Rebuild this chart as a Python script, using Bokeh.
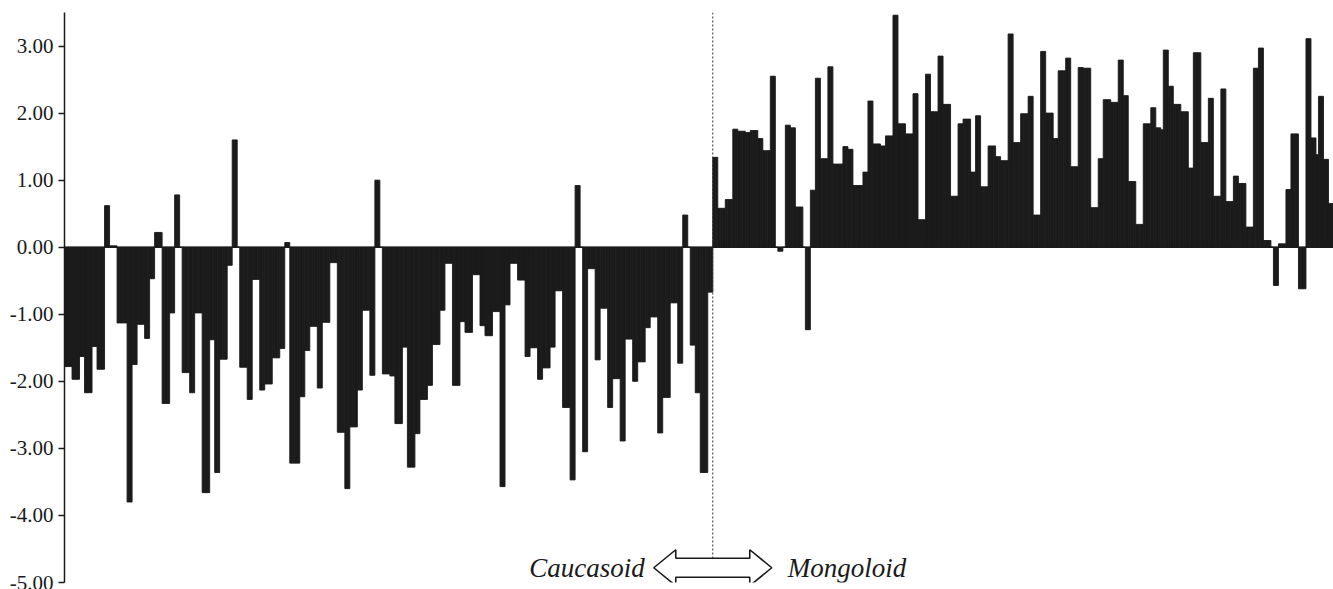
from bokeh.plotting import figure
from bokeh.models import Range1d, FixedTicker, Span, Label, ColumnDataSource, NumeralTickFormatter
from bokeh.embed import file_html
from bokeh.resources import INLINE

# --- data ---
caucasoid = [
    -1.78, -1.78, -1.78, -1.97, -1.97, -1.97, -1.63, -1.63, -2.17, -2.17, -2.17, -1.48, -1.48,
    -1.82, -1.82, -1.82, 0.62, 0.62, 0.02, 0.02, 0.02, -1.13, -1.13, -1.13, -1.13, -3.80, -3.80,
    -1.75, -1.75, -1.15, -1.15, -1.15, -1.36, -1.36, -0.47, -0.47, 0.22, 0.22, 0.22,
    -2.33, -2.33, -2.33, -0.98, -0.98, 0.78, 0.78, 0.00, -1.87, -1.87, -1.87,
    -2.17, -2.17, -0.98, -0.98, -0.98, -3.66, -3.66, -3.66, -1.38, -1.38, -3.36, -3.36,
    -1.67, -1.67, -1.67, -0.27, -0.27, 1.60, 1.60, 0.00, -1.79, -1.79, -1.79,
    -2.27, -2.27, -0.48, -0.48, -0.48, -2.13, -2.13, -2.04, -2.04, -2.04, -1.65, -1.65, -1.65,
    -1.51, -1.51, 0.07, 0.07, -3.22, -3.22, -3.22, -3.22, -2.23, -2.23, -1.54, -1.54,
    -1.18, -1.18, -1.18, -2.10, -2.10, -1.12, -1.12, -1.12, -0.23, -0.23, -0.23,
    -2.76, -2.76, -2.76, -3.60, -3.60, -2.68, -2.68, -2.68, -2.13, -2.13, -0.94, -0.94, -0.94, -1.91, -1.91,
    1.00, 1.00, 0.00, -1.89, -1.89, -1.89, -1.92, -1.92, -2.63, -2.63, -2.63, -1.49, -1.49,
    -3.28, -3.28, -3.28, -2.78, -2.78, -2.27, -2.27, -2.27, -2.06, -2.06,
    -1.45, -1.45, -1.45, -0.94, -0.94, -0.24, -0.24, -0.24, -2.06, -2.06, -2.06, -1.11, -1.11,
    -1.27, -1.27, -1.27, -0.41, -0.41, -0.41, -1.17, -1.17, -1.32, -1.32, -1.32, -0.96, -0.96, -0.96,
    -3.57, -3.57, -0.86, -0.86, -0.24, -0.24, -0.24, -0.49, -0.49, -0.49, -1.63, -1.63,
    -1.50, -1.50, -1.50, -1.97, -1.97, -1.80, -1.80, -1.80, -1.49, -1.49, -0.65, -0.65, -0.65,
    -2.39, -2.39, -2.39, -3.47, -3.47, 0.92, 0.92, 0.00, -3.05, -3.05, -0.32, -0.32, -0.32,
    -1.68, -1.68, -0.91, -0.91, -0.91, -2.39, -2.39, -1.96, -1.96, -1.96,
    -2.89, -2.89, -1.37, -1.37, -1.37, -2.00, -2.00, -1.71, -1.71, -1.71, -1.20, -1.20,
    -1.04, -1.04, -1.04, -2.77, -2.77, -2.24, -2.24, -2.24, -0.83, -0.83, -0.83, -1.73, -1.73,
    0.48, 0.48, 0.00, -1.46, -1.46, -2.17, -2.17, -3.36, -3.36, -3.36, -0.67, -0.67,
]

mongoloid = [
    1.34, 1.34, 0.58, 0.58, 0.58, 0.71, 0.71, 0.71, 1.76, 1.76, 1.73, 1.73, 1.73, 1.71, 1.71,
    1.74, 1.74, 1.74, 1.62, 1.62, 1.44, 1.44, 1.44, 2.55, 2.55,
    0.00, -0.06, -0.06, 0.00, 1.82, 1.82, 1.78, 1.78, 0.60, 0.60, 0.60, 0.00, -1.23, -1.23,
    0.85, 0.85, 2.52, 2.52,
    1.32, 1.32, 1.32, 2.69, 2.69, 1.24, 1.24, 1.24, 1.24, 1.50, 1.50, 1.46, 1.46,
    0.92, 0.92, 0.92, 0.92, 1.12, 1.12, 2.18, 2.18, 1.54, 1.54, 1.54, 1.51, 1.51,
    1.66, 1.66, 1.66, 3.46, 3.46, 1.84, 1.84, 1.84, 1.69, 1.69, 1.69, 2.29, 2.29,
    0.41, 0.41, 0.41, 2.58, 2.58, 2.02, 2.02, 2.02, 2.85, 2.85, 2.13, 2.13, 2.13,
    0.76, 0.76, 0.76, 1.84, 1.84, 1.91, 1.91, 1.91, 1.12, 1.12, 1.96, 1.96,
    0.90, 0.90, 0.90, 1.51, 1.51, 1.51, 1.35, 1.35, 1.29, 1.29, 1.29, 3.18, 3.18,
    1.56, 1.56, 1.56, 1.99, 1.99, 1.99, 2.25, 2.25, 0.48, 0.48, 0.48, 2.92, 2.92,
    2.00, 2.00, 2.00, 1.62, 1.62, 2.63, 2.63, 2.63, 2.82, 2.82, 1.20, 1.20, 1.20,
    2.68, 2.68, 2.67, 2.67, 2.67, 0.59, 0.59, 0.59, 1.32, 1.32, 2.20, 2.20, 2.20,
    2.16, 2.16, 2.16, 2.79, 2.79, 2.26, 2.26, 0.98, 0.98, 0.98, 0.34, 0.34, 0.34,
    1.84, 1.84, 1.84, 2.08, 2.08, 1.78, 1.78, 1.75, 2.94, 2.94, 2.40, 2.40,
    2.13, 2.13, 2.13, 2.02, 2.02, 2.02, 1.18, 1.18, 2.90, 2.90, 2.90,
    1.56, 1.56, 1.56, 2.22, 2.22, 0.76, 0.76, 0.76, 2.36, 2.36, 0.68, 0.68, 0.68,
    1.06, 1.06, 0.95, 0.95, 0.95, 0.30, 0.30, 0.30, 2.67, 2.67, 2.97, 2.97,
    0.10, 0.10, 0.10, 0.00, -0.57, -0.57, 0.05, 0.05, 0.05, 0.86, 0.86, 1.69, 1.69, 1.69,
    -0.62, -0.62, -0.62, 3.11, 3.11, 1.63, 1.63, 1.38, 2.25, 2.25, 1.31, 1.31, 0.65, 0.65,
]

y_ticks = [-5, -4, -3, -2, -1, 0, 1, 2, 3]
group_labels = ["Caucasoid", "Mongoloid"]

values = caucasoid + mongoloid
n = len(values)
source = ColumnDataSource(dict(x=list(range(n)), top=values))

Y_MIN, Y_MAX = -5.0, 3.5
W, H = 1333, 589
BL, BT, BB = 64, 12, 7
frame_w = W - BL
frame_h = H - BT - BB
ppb = frame_w / n               # pixels per bar
ppy = frame_h / (Y_MAX - Y_MIN)  # pixels per y unit

p = figure(width=W, height=H, output_backend="svg", toolbar_location=None,
           x_axis_location=None,
           x_range=Range1d(-0.5, n - 0.5), y_range=Range1d(Y_MIN, Y_MAX),
           min_border_left=BL, min_border_right=0, min_border_top=BT, min_border_bottom=BB)
p.outline_line_color = None
p.grid.visible = False
p.background_fill_color = "white"

ax = p.yaxis[0]
ax.ticker = FixedTicker(ticks=y_ticks)
ax.formatter = NumeralTickFormatter(format="0.00")
ax.major_label_text_font = "Liberation Serif"
ax.major_label_text_font_size = "21px"
ax.major_label_text_color = "#1a1a1a"
ax.major_tick_out = 6
ax.major_tick_in = 0
ax.minor_tick_out = 0
ax.minor_tick_in = 0
ax.major_label_standoff = 5
ax.axis_line_width = 1.5
ax.axis_line_color = "#1a1a1a"
ax.major_tick_line_width = 1.5
ax.major_tick_line_color = "#1a1a1a"

p.vbar(x="x", top="top", bottom=0, width=1.0, source=source,
       fill_color="#1b1b1b", line_color="#1b1b1b", line_width=0.9)

p.add_layout(Span(location=0, dimension="width", line_color="#1b1b1b", line_width=1.5))

# divider between the two groups
cx = len(caucasoid) - 0.5
cy = -4.78
p.segment(x0=[cx], y0=[Y_MAX], x1=[cx], y1=[cy + 9.5 / ppy],
          line_color="#333333", line_width=1, line_dash="2 2")

# double-headed hollow arrow
L = 59 / ppb
Hd = 22 / ppb
hh = 18 / ppy
sh = 9.5 / ppy
xs = [cx - L, cx - L + Hd, cx - L + Hd, cx + L - Hd, cx + L - Hd, cx + L,
      cx + L - Hd, cx + L - Hd, cx - L + Hd, cx - L + Hd]
ys = [cy, cy + hh, cy + sh, cy + sh, cy + hh, cy,
      cy - hh, cy - sh, cy - sh, cy - hh]
p.patch(xs, ys, fill_color="white", line_color="#1a1a1a", line_width=1.6)

p.add_layout(Label(x=cx - L - 9 / ppb, y=cy, text=group_labels[0], text_align="right",
                   text_baseline="middle", text_font="Liberation Serif",
                   text_font_style="italic", text_font_size="27px", text_color="#1a1a1a"))
p.add_layout(Label(x=cx + L + 16 / ppb, y=cy, text=group_labels[1], text_align="left",
                   text_baseline="middle", text_font="Liberation Serif",
                   text_font_style="italic", text_font_size="27px", text_color="#1a1a1a"))

open("out.html", "w").write(file_html(p, INLINE))
